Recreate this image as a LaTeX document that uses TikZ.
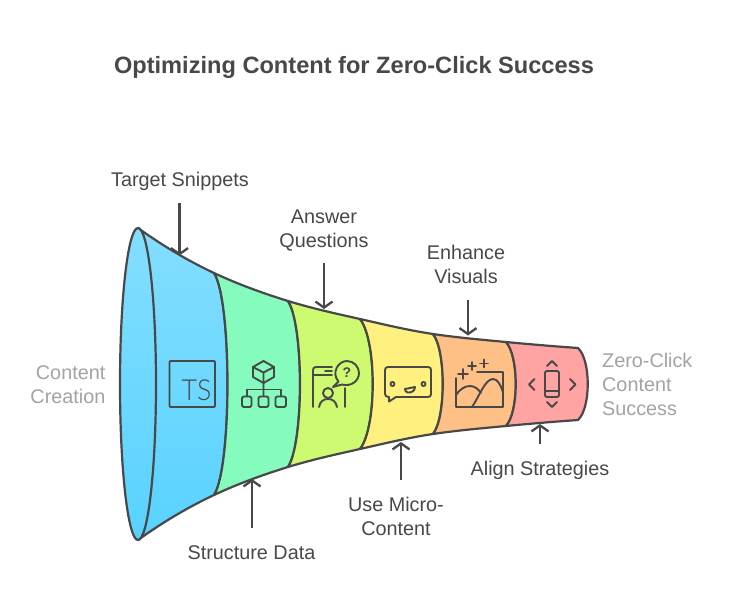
\documentclass[tikz,border=0pt]{standalone}
\usepackage{fontspec}
\setmainfont{Liberation Sans}
\newfontfamily\tsfont{Lato Light}
\usetikzlibrary{arrows.meta}
\definecolor{ink}{HTML}{484848}
\definecolor{soft}{HTML}{A3A3A3}
\definecolor{blueA}{HTML}{84DEFF}
\definecolor{blueB}{HTML}{58D2FF}
\definecolor{segG}{HTML}{85FBBE}
\definecolor{segL}{HTML}{CDFA70}
\definecolor{segY}{HTML}{FFF07F}
\definecolor{segO}{HTML}{FFC085}
\definecolor{segR}{HTML}{FFA3A3}
\tikzset{
  seg/.style={draw=ink,line width=2.2pt,line join=round},
  icon/.style={draw=ink,line width=1.9pt,line cap=round,line join=round},
  pointer/.style={draw=ink,line width=2.3pt,-{Straight Barb[length=6pt,width=17pt,line width=2.3pt]}},
  lbl/.style={text=ink,font=\fontsize{19.8}{24}\selectfont,inner sep=0pt,align=center},
  softl/.style={text=soft,font=\fontsize{19.8}{24}\selectfont,inner sep=0pt},
}
\begin{document}
\begin{tikzpicture}[x=1pt,y=-1pt]
\useasboundingbox (0,0) rectangle (732,613);
\fill[white] (0,0) rectangle (732,613);
\node[text=ink,font=\fontsize{23.6}{28}\bfseries\selectfont,inner sep=0pt] (title) at (354,67.5) {Optimizing Content for Zero-Click Success};

% funnel sections
\path[seg,top color=blueA,bottom color=blueB] (138,228) .. controls (163.3,246.2) and (188.7,261.1) .. (214,273)
  .. controls (232,300) and (232,468) .. (214,495)
  .. controls (188.7,506.9) and (163.3,521.8) .. (138,540) -- cycle;
\path[seg,fill=segG] (214,273) .. controls (238.7,284.6) and (263.3,293.3) .. (288,301)
  .. controls (304,325) and (304,443) .. (288,467)
  .. controls (263.3,474.7) and (238.7,483.4) .. (214,495)
  .. controls (232,468) and (232,300) .. (214,273) -- cycle;
\path[seg,fill=segL] (288,301) .. controls (312,308.4) and (336,313.6) .. (360,319)
  .. controls (377,340) and (377,428) .. (360,449)
  .. controls (336,454.4) and (312,459.6) .. (288,467)
  .. controls (304,443) and (304,325) .. (288,301) -- cycle;
\path[seg,fill=segY] (360,319) .. controls (384.3,324.5) and (408.7,330.4) .. (433,334)
  .. controls (446,350) and (446,418) .. (433,434)
  .. controls (408.7,437.6) and (384.3,443.5) .. (360,449)
  .. controls (377,428) and (377,340) .. (360,319) -- cycle;
\path[seg,fill=segO] (433,334) .. controls (457.3,337.6) and (481.7,339.7) .. (506,342)
  .. controls (519,356) and (519,412) .. (506,426)
  .. controls (481.7,428.3) and (457.3,430.4) .. (433,434)
  .. controls (446,418) and (446,350) .. (433,334) -- cycle;
\path[seg,fill=segR] (506,342) .. controls (530,344.3) and (554,346.3) .. (578,348)
  .. controls (591,360) and (591,408) .. (578,420)
  .. controls (554,421.7) and (530,423.7) .. (506,426)
  .. controls (519,412) and (519,356) .. (506,342) -- cycle;
\path[seg,top color=blueA,bottom color=blueB] (138,384) ellipse [x radius=18,y radius=156];

% TS icon
\draw[icon,rounded corners=1pt] (169.5,361) rectangle (215,407);
\node[text=ink,inner sep=0pt,xscale=.92,font=\tsfont\fontsize{29}{29}\selectfont] (tsicon) at (196.5,390.5) {TS};

% hierarchy icon
\draw[icon] (263.5,361) -- (274,367) -- (274,377) -- (263.5,383) -- (253,377) -- (253,367) -- cycle;
\draw[icon] (253,367) -- (263.5,372.5) -- (274,367) (263.5,372.5) -- (263.5,383) -- (263.5,396);
\draw[icon] (247,396) -- (247,389.5) -- (281,389.5) -- (281,396);
\draw[icon,rounded corners=1.5pt] (242,396.5) rectangle (251.5,407);
\draw[icon,rounded corners=1.5pt] (258.5,396.5) rectangle (268.5,407);
\draw[icon,rounded corners=1.5pt] (275.5,396.5) rectangle (286,407);

% question icon
\draw[icon] (313,407) -- (313,370) .. controls (313,368) and (314,367) .. (316,367) -- (332,367);
\draw[icon] (313,375) -- (332,375) (325,371) -- (332,371) (345,388) -- (345,407);
\draw[icon] (333,387) -- (338.5,381.5) .. controls (331,373) and (338,361) .. (347,361)
  .. controls (354,361) and (359,367) .. (359,373) .. controls (359,381) and (351,387) .. (342,384.5) -- cycle;
\node[text=ink,inner sep=0pt,font=\fontsize{14}{14}\bfseries\selectfont] (qmark) at (347,373) {?};
\draw[icon] (328,393) circle [radius=5];
\draw[icon] (319,407) .. controls (320,401) and (324,399) .. (328,399) .. controls (332,399) and (336,401) .. (337,407);

% chat icon
\draw[icon] (388,367) -- (428,367) .. controls (430,367) and (431,368) .. (431,370) -- (431,394)
  .. controls (431,396) and (430,397) .. (428,397) -- (396,397) -- (389,401.5) -- (389,397)
  .. controls (386.5,397) and (385,396) .. (385,394) -- (385,370) .. controls (385,368) and (386,367) .. (388,367) -- cycle;
\draw[icon] (392.5,384) circle [radius=2];
\draw[icon] (423.5,384) circle [radius=2];
\draw[icon] (405,389) -- (415,387) .. controls (415,391) and (411,393) .. (408,392.5) .. controls (406,392) and (405,391) .. (405,389) -- cycle;

% image icon
\draw[icon] (456,378) -- (456,407) -- (503,407) -- (503,372) -- (477,372);
\draw[icon] (458,374) -- (468,374) (463,369) -- (463,379);
\draw[icon] (468,366) -- (476,366) (472,362) -- (472,370);
\draw[icon] (480,363.5) -- (488,363.5) (484,359.5) -- (484,367.5);
\draw[icon] (456,395) .. controls (460,389) and (465,386) .. (470,386) .. controls (475,386) and (478,389) .. (481,393);
\draw[icon] (472,407) .. controls (479,397) and (485,379) .. (493,379) .. controls (498,379) and (501,386) .. (503,392);

% mobile icon
\draw[icon,rounded corners=2pt] (545,371) rectangle (559,397);
\draw[icon] (545,391) -- (559,391);
\draw[icon] (547,366) -- (552,361) -- (557,366);
\draw[icon] (547,402) -- (552,407) -- (557,402);
\draw[icon] (534.5,379) -- (529,384.5) -- (534.5,390);
\draw[icon] (570,379) -- (575.5,384.5) -- (570,390);

% pointers
\coordinate (p1a) at (179.5,203); \coordinate (p1b) at (179.5,255.5);
\coordinate (p2a) at (324,263); \coordinate (p2b) at (324,309);
\coordinate (p3a) at (468,300); \coordinate (p3b) at (468,335.5);
\coordinate (p4a) at (252,528); \coordinate (p4b) at (252,479);
\coordinate (p5a) at (401,480); \coordinate (p5b) at (401,442);
\coordinate (p6a) at (540,444); \coordinate (p6b) at (540,424);
\draw[pointer] (p1a) -- (p1b);
\draw[pointer] (p2a) -- (p2b);
\draw[pointer] (p3a) -- (p3b);
\draw[pointer] (p4a) -- (p4b);
\draw[pointer] (p5a) -- (p5b);
\draw[pointer] (p6a) -- (p6b);

% labels
\node[lbl] (l1) at (180,181.5) {Target Snippets};
\node[lbl] (l2) at (324,230.5) {Answer\\Questions};
\node[lbl] (l3) at (466,264) {Enhance\\Visuals};
\node[lbl] (l4) at (251.5,552.5) {Structure Data};
\node[lbl] (l5) at (396,516) {Use Micro-\\Content};
\node[lbl] (l6) at (540,470) {Align Strategies};
\node[softl,align=right,anchor=east] (l7) at (105.5,385) {Content\\Creation};
\node[softl,align=left,anchor=west] (l8) at (602,384) {Zero-Click\\Content\\Success};
\end{tikzpicture}
\end{document}
